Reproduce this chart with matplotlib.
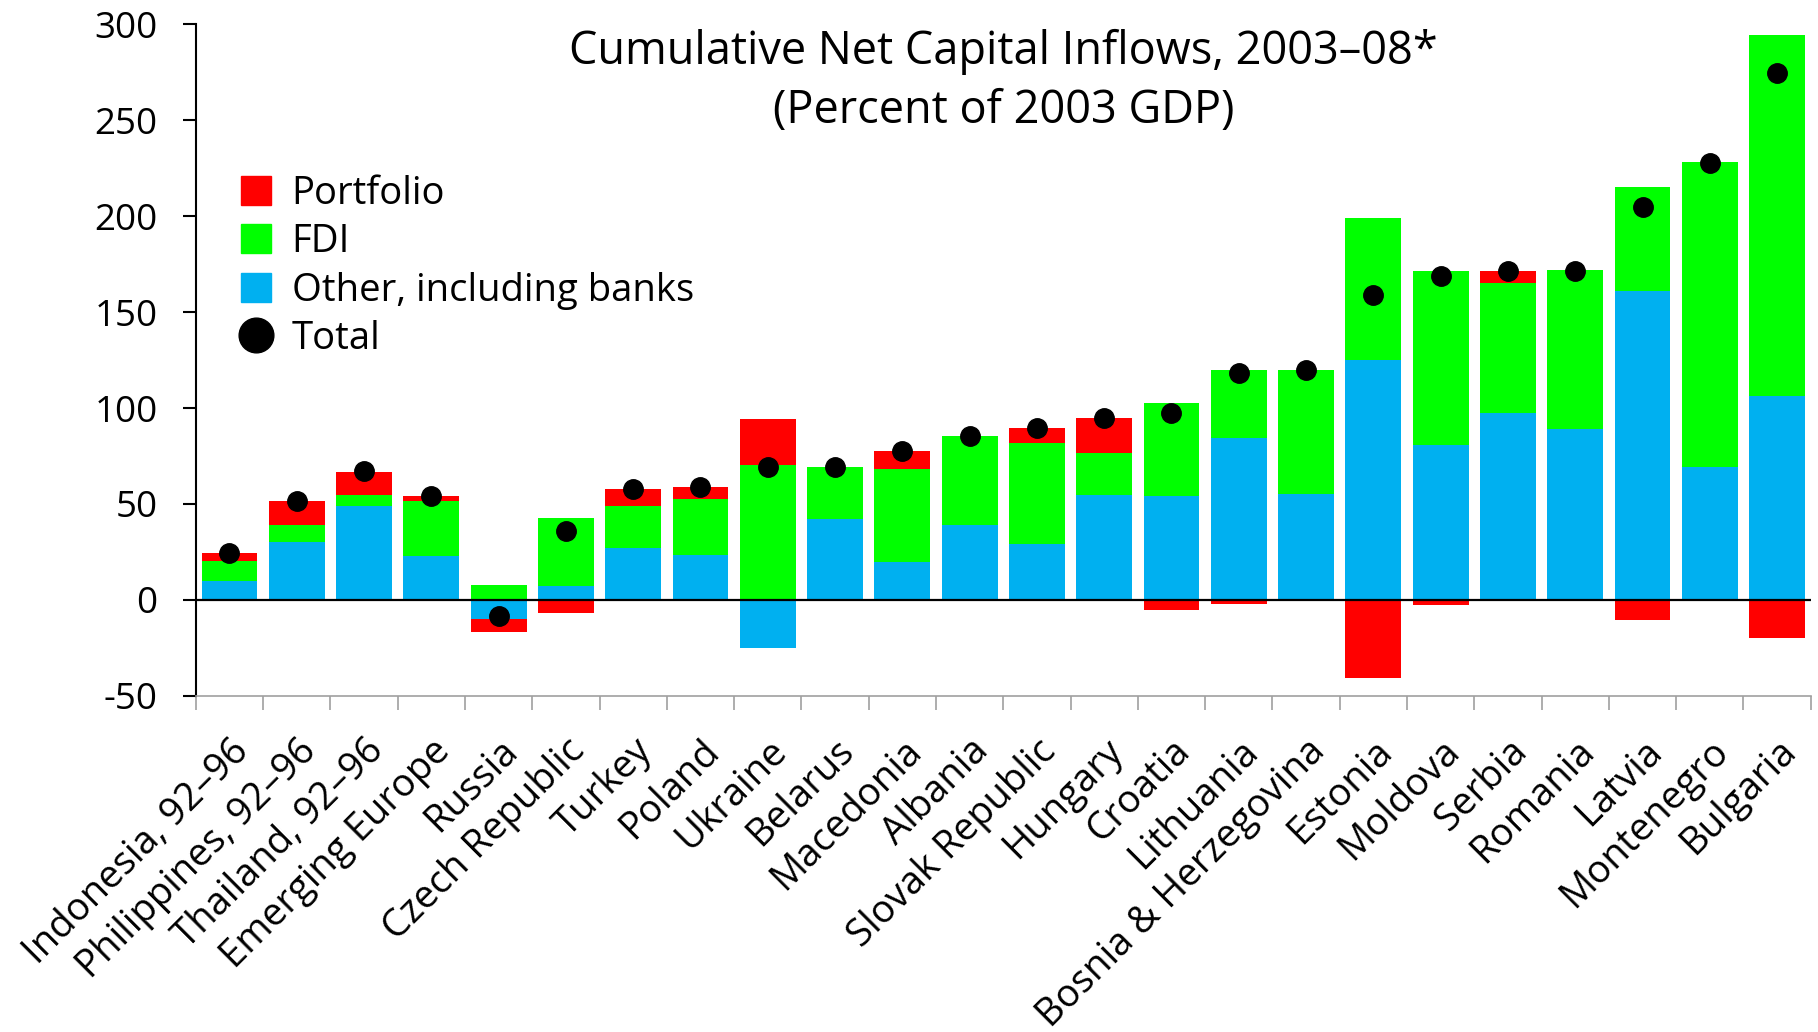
import matplotlib
matplotlib.use("Agg")
import matplotlib.pyplot as plt
from matplotlib.patches import Patch
from matplotlib.lines import Line2D
import numpy as np

plt.rcParams['font.family'] = ['Open Sans', 'DejaVu Sans']
plt.rcParams['axes.unicode_minus'] = False

categories = ["Indonesia, 92\u201396", "Philippines, 92\u201396", "Thailand, 92\u201396",
              "Emerging Europe", "Russia", "Czech Republic", "Turkey", "Poland", "Ukraine",
              "Belarus", "Macedonia", "Albania", "Slovak Republic", "Hungary", "Croatia",
              "Lithuania", "Bosnia & Herzegovina", "Estonia", "Moldova", "Serbia", "Romania",
              "Latvia", "Montenegro", "Bulgaria"]
other = [10, 30, 49, 23, -9.8, 7.4, 27, 23.3, -25.2, 42.4, 19.5, 39, 29, 54.5, 54,
         84.5, 55, 124.8, 80.7, 97.4, 89, 161.2, 69.3, 106.2]
fdi = [10.5, 9, 5.8, 28.5, 7.6, 35.5, 22, 29.3, 70.5, 27.1, 48.8, 46.5, 52.7, 21.9, 48.4,
       35.5, 65, 74.5, 90.5, 67.8, 82.9, 53.8, 159, 188.3]
portfolio = [4, 12.4, 11.9, 2.4, -6.9, -7.1, 8.9, 6.4, 23.8, 0, 9.3, 0, 7.8, 18.4, -5.5,
             -1.9, 0, -40.5, -2.6, 6.2, 0, -10.5, 0, -19.8]
total = [24.5, 51.5, 67, 54, -8.6, 36, 58, 59, 69, 69.5, 77.6, 85.5, 89.8, 94.8, 97.4,
         118, 120, 159, 169, 171.2, 171.2, 204.8, 227.9, 274.8]
yticks = [-50, 0, 50, 100, 150, 200, 250, 300]

RED, GREEN, BLUE = '#FF0000', '#00FF00', '#00B0F0'

fig = plt.figure(figsize=(18.18, 10.32), dpi=100)
ax_l, ax_b, ax_w, ax_h = 0.1077, 0.3258, 0.8883, 0.6506
ax = fig.add_axes([ax_l, ax_b, ax_w, ax_h])

x = np.arange(len(categories))
w = 0.83
pos_base = np.zeros(len(x))
neg_base = np.zeros(len(x))
for vals, col in [(other, BLUE), (fdi, GREEN), (portfolio, RED)]:
    v = np.array(vals, dtype=float)
    p = np.where(v > 0, v, 0)
    n = np.where(v < 0, v, 0)
    ax.bar(x, p, w, bottom=pos_base, color=col, linewidth=0, zorder=2)
    ax.bar(x, n, w, bottom=neg_base, color=col, linewidth=0, zorder=2)
    pos_base += p
    neg_base += n

ax.plot(x, total, 'o', color='black', markersize=14, zorder=4)
ax.axhline(0, color='black', lw=1.6, zorder=3)

ax.set_xlim(-0.5, len(x) - 0.5)
ax.set_ylim(-50, 300)
ax.set_yticks(yticks)
ax.tick_params(axis='y', labelsize=26.5, length=9.4, width=1.5, direction='out', pad=18)

ax.set_xticks(np.arange(-0.5, len(x)), minor=False)
ax.set_xticklabels([])
ax.set_xticks(x, minor=True)
ax.set_xticklabels(categories, minor=True, rotation=45, ha='right',
                   rotation_mode='anchor', fontsize=27.5)
ax.tick_params(axis='x', which='minor', length=0, pad=26)
ax.tick_params(axis='x', which='major', length=10, width=1.2, color='#A0A0A0')

ax.spines['top'].set_visible(False)
ax.spines['right'].set_visible(False)
ax.spines['left'].set_linewidth(1.5)
ax.spines['bottom'].set_color('#A0A0A0')
ax.spines['bottom'].set_linewidth(1.2)

cx = ax_l + ax_w / 2
fig.text(cx, 0.950, "Cumulative Net Capital Inflows, 2003\u201308*",
         ha='center', va='center', fontsize=32.5)
fig.text(cx, 0.892, "(Percent of 2003 GDP)",
         ha='center', va='center', fontsize=32.5)

handles = [Patch(color=RED, label='Portfolio'),
           Patch(color=GREEN, label='FDI'),
           Patch(color=BLUE, label='Other, including banks'),
           Line2D([], [], marker='o', color='black', linestyle='None', markersize=25,
                  label='Total')]
leg = fig.legend(handles=handles, loc='upper left', bbox_to_anchor=(0.1326, 0.8308),
                 frameon=False, fontsize=27.5, handlelength=0.785, handleheight=0.785,
                 handletextpad=0.54, labelspacing=0.275, borderpad=0, borderaxespad=0)

fig.savefig('out.png', dpi=100)
